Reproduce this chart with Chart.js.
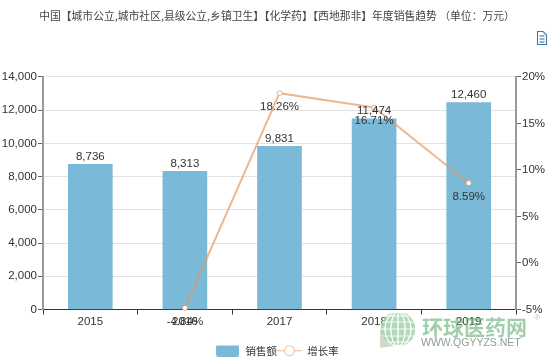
<!DOCTYPE html>
<html><head><meta charset="utf-8">
<style>html,body{margin:0;padding:0;background:#fff}#w{position:relative;width:554px;height:364px}canvas{display:block}</style>
<script src="https://cdn.jsdelivr.net/npm/chart.js@4/dist/chart.umd.min.js"></script>
</head><body><div id="w"><canvas id="c" width="554" height="364"></canvas></div>
<script>
const years = ['2015','2016','2017','2018','2019'];
const sales = [8736,8313,9831,11474,12460];
const growth = [null,-4.84,18.26,16.71,8.59];
const titleText = '中国【城市公立,城市社区,县级公立,乡镇卫生】【化学药】【西地那非】年度销售趋势 （单位：万元）';
const seriesNames = ['销售额','增长率'];
const wmCn = '环球医药网';
const wmEn = 'WWW.QGYYZS.NET';

const SANS = '"Liberation Sans", Arial, sans-serif';
const CJK = '"Noto Sans CJK SC", sans-serif';
const TXT = '#333';
const BAR = '#7ab9d8';
const LINE = 'rgba(225,150,95,0.68)';

function legendBar(){const c=document.createElement('canvas');c.width=23;c.height=13;const x=c.getContext('2d');
  x.fillStyle=BAR;x.beginPath();x.roundRect(0,0,23,13,3);x.fill();return c;}
function legendLine(){const c=document.createElement('canvas');c.width=25;c.height=13;const x=c.getContext('2d');
  x.strokeStyle=LINE;x.lineWidth=1;x.beginPath();x.moveTo(0,6.5);x.lineTo(7.5,6.5);x.moveTo(17.5,6.5);x.lineTo(25,6.5);x.stroke();
  x.beginPath();x.arc(12.5,6.5,5,0,Math.PI*2);x.stroke();return c;}

const labels = {id:'labels',afterDatasetsDraw(ch){
  const x=ch.ctx;x.save();x.font='11.5px '+SANS;x.fillStyle=TXT;x.textAlign='center';
  const l=ch.getDatasetMeta(0).data,b=ch.getDatasetMeta(1).data;
  x.textBaseline='bottom';
  sales.forEach((v,i)=>x.fillText(v.toLocaleString('en-US'),b[i].x,b[i].y-2));
  x.textBaseline='top';
  growth.forEach((v,i)=>{if(v!==null)x.fillText(v.toFixed(2)+'%',l[i].x,l[i].y+8);});
  x.restore();
}};
const extras = {id:'extras',afterDraw(ch){
  const x=ch.ctx;x.save();
  // document icon
  x.strokeStyle='#3f78a8';x.lineWidth=1.1;x.beginPath();
  x.moveTo(537.5,31.5);x.lineTo(543,31.5);x.lineTo(546.5,35);x.lineTo(546.5,44.5);x.lineTo(537.5,44.5);x.closePath();x.stroke();
  [36,39,42].forEach(y=>{x.beginPath();x.moveTo(539.5,y);x.lineTo(544.5,y);x.stroke();});
  // watermark globe
  x.fillStyle='rgba(150,170,135,0.45)';x.beginPath();x.moveTo(380,330);x.lineTo(380,348);x.lineTo(408,344);x.closePath();x.fill();
  x.beginPath();x.arc(398,329,17.5,0,Math.PI*2);x.fillStyle='rgba(255,255,255,0.7)';x.fill();
  x.clip();
  x.fillStyle='rgba(125,190,135,0.6)';x.beginPath();x.arc(398,329,17.5,0,Math.PI*2);x.fill();
  x.strokeStyle='rgba(255,255,255,0.9)';x.lineWidth=1;
  [-13,-7,0,7,13].forEach(d=>{x.beginPath();x.ellipse(398,329,Math.abs(d)+.1,17.5,0,0,Math.PI*2);x.stroke();});
  [-13,-7,0,7,13].forEach(d=>{x.beginPath();x.moveTo(380,329+d);x.lineTo(416,329+d);x.stroke();});
  x.restore();x.save();
  x.textAlign='left';x.textBaseline='alphabetic';
  x.fillStyle='rgba(105,175,120,0.62)';x.font='bold 21px '+CJK;x.fillText(wmCn,422,335);
  x.fillStyle='rgba(110,120,115,0.75)';x.font='10.5px '+SANS;x.fillText(wmEn,421,346);
  x.fillStyle='rgba(120,185,135,0.6)';x.font='8px '+SANS;x.fillText('®',534,320);
  x.restore();
}};

new Chart(document.getElementById('c'),{
  data:{labels:years,datasets:[
    {type:'line',label:seriesNames[1],data:growth,yAxisID:'y1',order:1,borderColor:LINE,borderWidth:2,
     pointRadius:2.5,pointBackgroundColor:'#fff',pointBorderColor:LINE,pointBorderWidth:1,tension:0,clip:false,spanGaps:false},
    {type:'bar',label:seriesNames[0],data:sales,yAxisID:'y',order:2,backgroundColor:BAR,barThickness:44}
  ]},
  options:{
    responsive:false,animation:false,
    layout:{padding:{top:0,right:0,bottom:-2,left:0}},
    plugins:{
      title:{display:true,text:titleText,color:'#444',font:{family:CJK,size:10.8,weight:'normal',lineHeight:1.2},padding:{top:9,bottom:55},align:'center'},
      tooltip:{enabled:false},
      legend:{position:'bottom',
        labels:{usePointStyle:true,pointStyleWidth:25,boxHeight:13,padding:0,color:TXT,font:{family:CJK,size:10.5},
          generateLabels(){return [
            {text:seriesNames[0],pointStyle:legendBar(),fontColor:TXT,datasetIndex:1},
            {text:seriesNames[1],pointStyle:legendLine(),fontColor:TXT,datasetIndex:0}
          ];}}}
    },
    scales:{
      x:{afterFit(s){s.height=36;},grid:{drawOnChartArea:false,offset:true,tickLength:5,color:'#333'},border:{color:'#333',width:1},
         ticks:{color:TXT,font:{family:SANS,size:11.5},padding:0,maxRotation:0}},
      y:{position:'left',min:0,max:14000,afterFit(s){s.width=43;},
         grid:{color:'#e2e2e2',tickLength:5,tickColor:'#666'},border:{color:'#999',width:2},
         ticks:{stepSize:2000,color:TXT,font:{family:SANS,size:11.5},padding:1,callback:v=>v.toLocaleString('en-US')}},
      y1:{position:'right',min:-5,max:20,afterFit(s){s.width=38;},
         grid:{drawOnChartArea:false,tickLength:5,tickColor:'#666'},border:{color:'#999',width:2},
         ticks:{stepSize:5,color:TXT,font:{family:SANS,size:11.5},padding:1,callback:v=>v+'%'}}
    }
  },
  plugins:[labels,extras]
});
</script></body></html>
